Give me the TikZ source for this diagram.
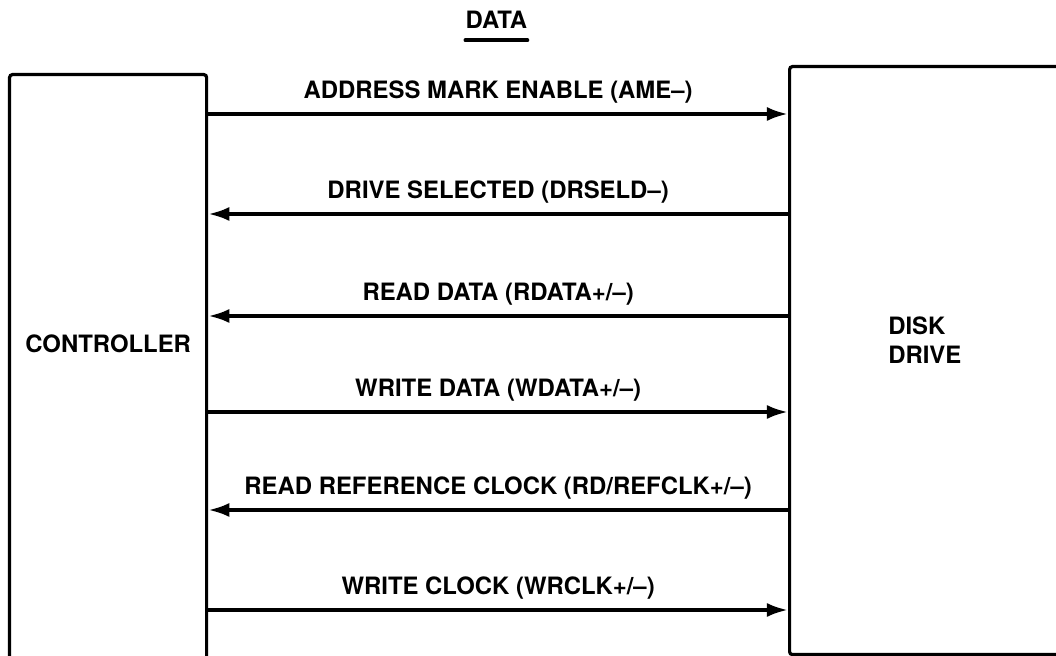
\documentclass[tikz,border=0pt]{standalone}
\usepackage{fontspec}
\setmainfont{TeX Gyre Heros}
\usetikzlibrary{arrows.meta}

\tikzset{
  unitbox/.style={draw, line width=2.3pt, rounded corners=2pt, inner sep=0pt},
  sigline/.style={line width=2.6pt, -{Latex[length=15pt,width=10pt]}},
  siglabel/.style={font=\bfseries\fontsize{17}{21}\selectfont, inner sep=0pt},
}

\begin{document}
\begin{tikzpicture}

    \useasboundingbox (0,0) rectangle (26.4,16.4);
    \clip (0,0) rectangle (26.4,16.4);

    % ============================================================
    % TITLE
    % ============================================================
    \node[siglabel, anchor=base] (title) at (12.41,15.675) {DATA};
    \draw[line width=2.6pt, line cap=round]
        ([yshift=-0.275cm]title.south west) -- ([yshift=-0.275cm]title.south east);

    % ============================================================
    % CONTROLLER (LEFT) AND DISK DRIVE (RIGHT)
    % ============================================================
    \node[unitbox, anchor=north west, minimum width=4.925cm,
          minimum height=15.5cm] (ctrl) at (0.2,14.575) {};
    \node[siglabel] (ctrltxt) at (ctrl.center |- 0,7.8) {CONTROLLER};

    \node[unitbox, anchor=north west, minimum width=8cm,
          minimum height=14.7cm] (drive) at (19.7,14.775) {};
    \node[siglabel, align=left, anchor=west] (drivetxt) at (22.2,7.9)
        {DISK\\DRIVE};

    % ============================================================
    % SIGNAL LINES
    % ============================================================
    \draw[sigline] (ctrl.east |- 0,13.55) -- (drive.west |- 0,13.55)
        node[siglabel, midway, anchor=base, yshift=0.375cm] (ame)
        {ADDRESS MARK ENABLE (AME–)};

    \draw[sigline] (drive.west |- 0,11.05) -- (ctrl.east |- 0,11.05)
        node[siglabel, midway, anchor=base, yshift=0.375cm] (drseld)
        {DRIVE SELECTED (DRSELD–)};

    \draw[sigline] (drive.west |- 0,8.5) -- (ctrl.east |- 0,8.5)
        node[siglabel, midway, anchor=base, yshift=0.375cm] (rdata)
        {READ DATA (RDATA+/–)};

    \draw[sigline] (ctrl.east |- 0,6.1) -- (drive.west |- 0,6.1)
        node[siglabel, midway, anchor=base, yshift=0.375cm] (wdata)
        {WRITE DATA (WDATA+/–)};

    \draw[sigline] (drive.west |- 0,3.65) -- (ctrl.east |- 0,3.65)
        node[siglabel, midway, anchor=base, yshift=0.375cm] (refclk)
        {READ REFERENCE CLOCK (RD/REFCLK+/–)};

    \draw[sigline] (ctrl.east |- 0,1.15) -- (drive.west |- 0,1.15)
        node[siglabel, midway, anchor=base, yshift=0.375cm] (wrclk)
        {WRITE CLOCK (WRCLK+/–)};

\end{tikzpicture}
\end{document}
